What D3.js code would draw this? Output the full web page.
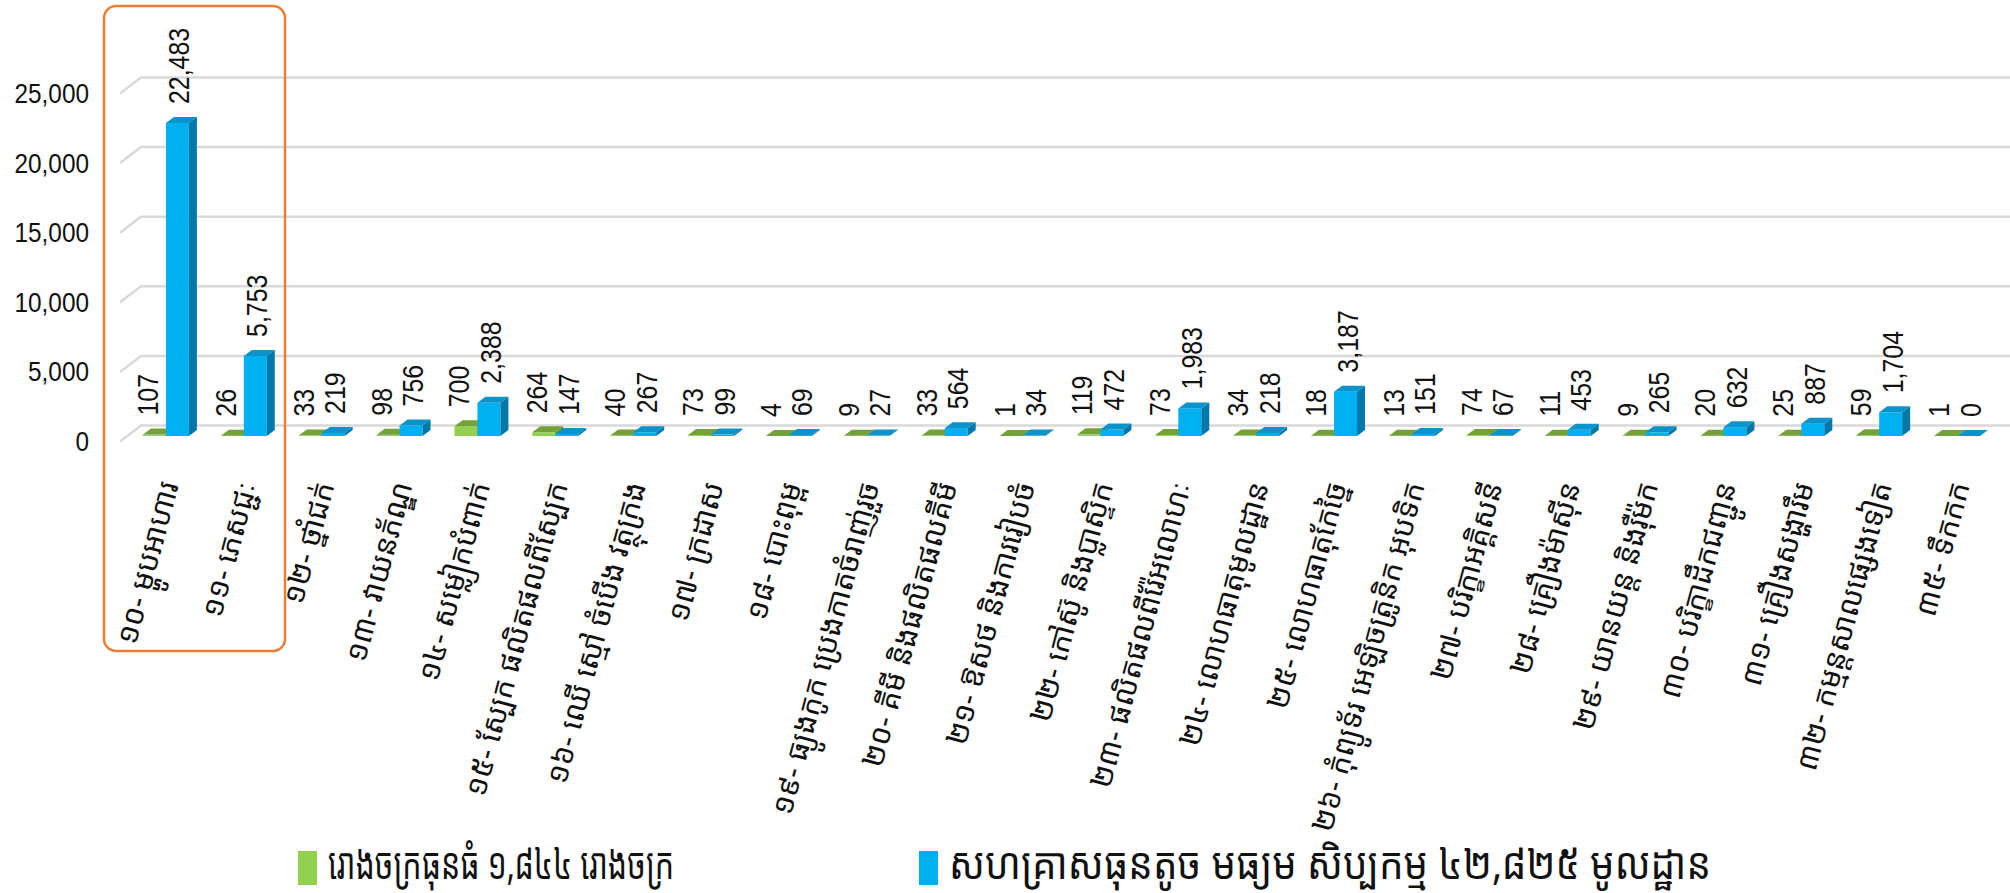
<!DOCTYPE html>
<html>
<head>
<meta charset="utf-8">
<script src="https://cdn.jsdelivr.net/npm/d3@7/dist/d3.min.js"></script>
<style>
  html, body { margin: 0; padding: 0; background: #fff; }
  svg { display: block; }
</style>
</head>
<body>
<svg id="chart" width="2010" height="893"></svg>
<script>
// ---------------- DATA ----------------
const categories = [
  "១០- ម្ហូបអាហារ",
  "១១- ភេសជ្ជៈ",
  "១២- ថ្នាំជក់",
  "១៣- វាយនភ័ណ្ឌ",
  "១៤- សម្លៀកបំពាក់",
  "១៥- ស្បែក ផលិតផលពីស្បែក",
  "១៦- ឈើ ស្មៅ ចំបើង វត្ថុក្រង",
  "១៧- ក្រដាស",
  "១៨- បោះពុម្ព",
  "១៩- ធ្យូងកូក ប្រេងកាតចំរាញ់រួច",
  "២០- គីមី និងផលិតផលគីមី",
  "២១- ឱសថ និងការរៀបចំ",
  "២២- កៅស៊ូ និងប្លាស្ទិក",
  "២៣- ផលិតផលពីរ៉ែអលោហៈ",
  "២៤- លោហធាតុមូលដ្ឋាន",
  "២៥- លោហធាតុកែច្នៃ",
  "២៦- កុំព្យូទ័រ អេឡិចត្រូនិក អុបទិក",
  "២៧- បរិក្ខាអគ្គិសនី",
  "២៨- គ្រឿងម៉ាស៊ីន",
  "២៩- យានយន្ត និងរ៉ឺម៉ក",
  "៣០- បរិក្ខាដឹកជញ្ជូន",
  "៣១- គ្រឿងសង្ហារឹម",
  "៣២- កម្មន្តសាលផ្សេងទៀត",
  "៣៥- ទឹកកក"
];
const largeFactories = [107, 26, 33, 98, 700, 264, 40, 73, 4, 9, 33, 1, 119, 73, 34, 18, 13, 74, 11, 9, 20, 25, 59, 1];
const smeValues = [22483, 5753, 219, 756, 2388, 147, 267, 99, 69, 27, 564, 34, 472, 1983, 218, 3187, 151, 67, 453, 265, 632, 887, 1704, 0];
const yTicks = [0, 5000, 10000, 15000, 20000, 25000];
const seriesNames = ["រោងចក្រធុនធំ ១,៨៤៤ រោងចក្រ", "សហគ្រាសធុនតូច មធ្យម សិប្បកម្ម ៤២,៨២៥ មូលដ្ឋាន"];

// ---------------- STYLE ----------------
const palette = [
  { front: "#92D050", top: "#74A238", side: "#678F30" },
  { front: "#00B0F0", top: "#0C93CC", side: "#0079AA" }
];
const khmerFont = "'Noto Sans Khmer','Khmer OS','Khmer OS System','Noto Sans',sans-serif";
const numFont = "'Liberation Sans','Arial',sans-serif";

const svg = d3.select("#chart");
const depthX = 8, depthY = 6;

const x = d3.scaleBand().domain(categories).range([127, 1996]).paddingInner(0.41).paddingOuter(0.205);
const x1 = d3.scaleBand().domain([0, 1]).range([0, x.bandwidth()]);
const y = d3.scaleLinear().domain([0, 25000]).range([436, 88]);
const yBack = d3.scaleLinear().domain([0, 25000]).range([425.5, 77.5]);

// gridlines (3D back wall + left floor diagonal)
const grid = svg.append("g");
yTicks.forEach(t => {
  const yb = yBack(t);
  grid.append("path")
    .attr("d", `M120,${yb + 16}L141,${yb}L2010,${yb}`)
    .attr("fill", "none")
    .attr("stroke", "#d9d9d9")
    .attr("stroke-width", 2.5);
});

// y axis labels
const yLab = d3.scaleLinear().domain([0, 25000]).range([yBack(0) + 16, yBack(25000) + 16]);
const yAxis = svg.append("g")
  .attr("transform", "translate(89,0)")
  .call(d3.axisLeft(yLab).tickValues(yTicks).tickSize(0).tickPadding(0).tickFormat(d3.format(",")));
yAxis.select(".domain").remove();
yAxis.selectAll(".tick text")
  .attr("x", null)
  .attr("font-family", numFont)
  .attr("font-size", 28)
  .attr("fill", "#111")
  .attr("transform", "scale(0.87,1)");

// bars
const series = [largeFactories, smeValues];
const barsG = svg.append("g");
categories.forEach((c, i) => {
  series.forEach((vals, s) => {
    const v = vals[i];
    const x0 = x(c) + x1(s);
    const w = x1.bandwidth();
    const yt = y(v), y0 = y(0);
    const col = palette[s];
    const g = barsG.append("g");
    g.append("rect").attr("x", x0).attr("y", yt).attr("width", w).attr("height", Math.max(0, y0 - yt)).attr("fill", col.front);
    g.append("path")
      .attr("d", `M${x0},${yt}L${x0 + depthX},${yt - depthY}L${x0 + w + depthX},${yt - depthY}L${x0 + w},${yt}Z`)
      .attr("fill", col.top);
    g.append("path")
      .attr("d", `M${x0 + w},${yt}L${x0 + w + depthX},${yt - depthY}L${x0 + w + depthX},${y0 - depthY}L${x0 + w},${y0}Z`)
      .attr("fill", col.side);
  });
});

// value labels
const labelShift = [-7, 1.5];
const labG = svg.append("g");
categories.forEach((c, i) => {
  series.forEach((vals, s) => {
    const v = vals[i];
    const cx = x(c) + x1(s) + x1.bandwidth() / 2 + labelShift[s];
    const ty = y(v) - 19;
    labG.append("text")
      .attr("transform", `translate(${cx},${ty}) rotate(-90) scale(0.86,1)`)
      .attr("dy", "0.36em")
      .attr("font-family", numFont)
      .attr("font-size", 29)
      .attr("fill", "#111")
      .text(d3.format(",")(v));
  });
});

// category labels
const catG = svg.append("g");
categories.forEach(c => {
  const cx = x(c) + x.bandwidth() / 2 + 13;
  catG.append("text")
    .attr("transform", `translate(${cx},485) rotate(-75)`)
    .attr("text-anchor", "end")
    .attr("font-family", khmerFont)
    .attr("font-size", 30)
    .attr("fill", "#111")
    .text(c);
});

// highlight box
svg.append("rect")
  .attr("x", 104).attr("y", 6).attr("width", 181).attr("height", 645)
  .attr("rx", 12).attr("ry", 12)
  .attr("fill", "none").attr("stroke", "#ED7D31").attr("stroke-width", 2.5);

// legend
const legendItems = [
  { rx: 298, tx: 328, len: 346 },
  { rx: 919, tx: 949, len: 762 }
];
seriesNames.forEach((name, s) => {
  const it = legendItems[s];
  svg.append("rect").attr("x", it.rx).attr("y", 851).attr("width", 19).attr("height", 34).attr("fill", palette[s].front);
  svg.append("text")
    .attr("x", it.tx).attr("y", 879)
    .attr("font-family", khmerFont)
    .attr("font-size", 44)
    .attr("fill", "#111")
    .attr("textLength", it.len)
    .attr("lengthAdjust", "spacingAndGlyphs")
    .text(name);
});
</script>
</body>
</html>
